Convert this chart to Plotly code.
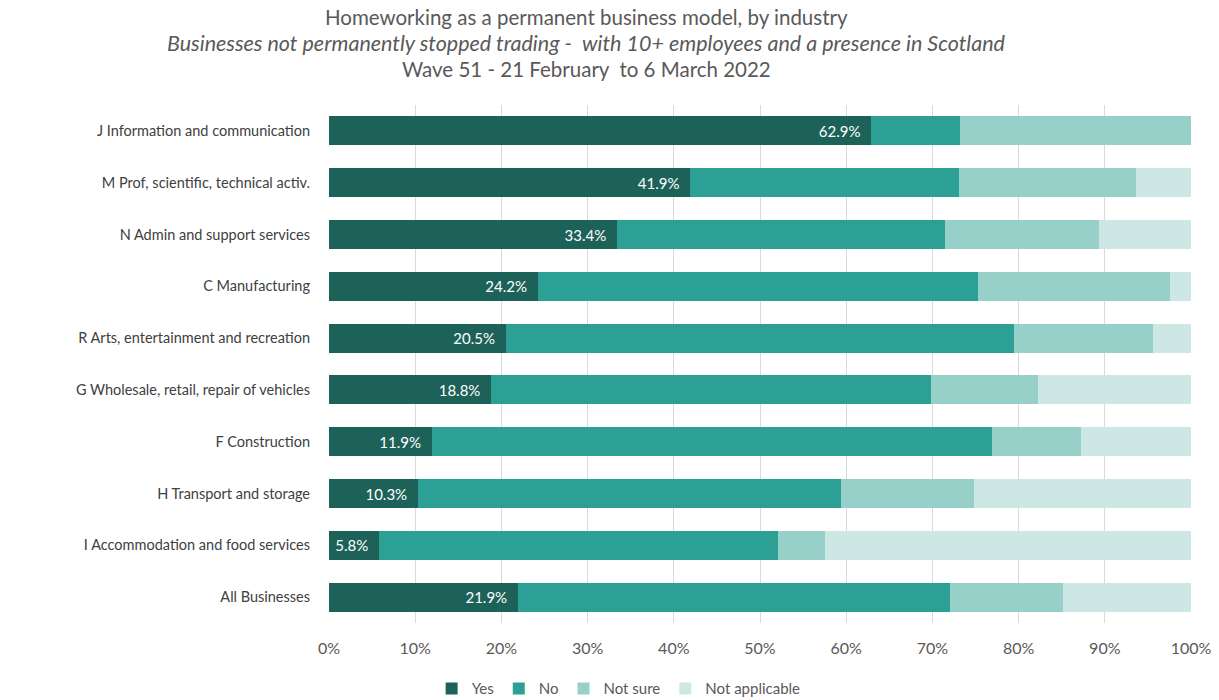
import plotly.graph_objects as go

# Industries, top to bottom as displayed
industries = [
    "J Information and communication",
    "M Prof, scientific, technical activ.",
    "N Admin and support services",
    "C Manufacturing",
    "R Arts, entertainment and recreation",
    "G Wholesale, retail, repair of vehicles",
    "F Construction",
    "H Transport and storage",
    "I Accommodation and food services",
    "All Businesses",
]

# Share of businesses (%) by response
yes_pct = [62.9, 41.9, 33.4, 24.2, 20.5, 18.8, 11.9, 10.3, 5.8, 21.9]
no_pct = [10.3, 31.2, 38.1, 51.1, 59.0, 51.0, 65.0, 49.1, 46.3, 50.1]
not_sure_pct = [26.8, 20.5, 17.8, 22.3, 16.1, 12.4, 10.3, 15.4, 5.4, 13.1]
not_applicable_pct = [0.0, 6.4, 10.7, 2.4, 4.4, 17.8, 12.8, 25.2, 42.5, 14.9]

x_tick_vals = [0, 10, 20, 30, 40, 50, 60, 70, 80, 90, 100]
x_tick_text = ["0%", "10%", "20%", "30%", "40%", "50%", "60%", "70%", "80%", "90%", "100%"]

series = [
    ("Yes", yes_pct, "#1D6259"),
    ("No", no_pct, "#2DA096"),
    ("Not sure", not_sure_pct, "#97D0C9"),
    ("Not applicable", not_applicable_pct, "#CDE8E4"),
]

FONT = "Lato, 'Open Sans', sans-serif"
NBSP = "\u00a0"

fig = go.Figure()
for name, vals, color in series:
    kw = {}
    if name == "Yes":
        kw = dict(
            text=[f"{v:.1f}%{NBSP * 2}" for v in vals],
            textposition="inside",
            insidetextanchor="end",
            textfont=dict(color="white", size=15, family=FONT),
        )
    fig.add_trace(go.Bar(
        name=name,
        y=industries,
        x=vals,
        orientation="h",
        marker=dict(color=color, line=dict(width=0)),
        hoverinfo="skip",
        **kw,
    ))

fig.update_layout(
    barmode="stack",
    bargap=0.44,
    width=1219,
    height=700,
    margin=dict(l=329, r=28, t=105, b=77, autoexpand=False),
    plot_bgcolor="white",
    paper_bgcolor="white",
    font=dict(family=FONT, color="#595959"),
    showlegend=True,
    legend=dict(
        orientation="h",
        x=0.336, xanchor="center",
        y=-0.127, yanchor="middle",
        font=dict(size=15, color="#595959"),
        traceorder="normal",
        itemwidth=30,
    ),
    xaxis=dict(
        range=[0, 100],
        tickvals=x_tick_vals,
        ticktext=x_tick_text,
        showgrid=True,
        gridcolor="#D9D9D9",
        gridwidth=1,
        zeroline=False,
        showline=False,
        tickfont=dict(size=16, color="#595959"),
        ticks="",
        ticklabelstandoff=14,
        fixedrange=True,
    ),
    yaxis=dict(
        categoryorder="array",
        categoryarray=industries,
        autorange="reversed",
        showgrid=False,
        tickfont=dict(size=14.5, color="#404040"),
        ticks="",
        ticklabelstandoff=18,
        fixedrange=True,
    ),
)

title_lines = [
    ("Homeworking as a permanent business model, by industry", 17, False, 20.5),
    ("Businesses not permanently stopped trading -  with 10+ employees and a presence in Scotland", 43, True, 21.5),
    ("Wave 51 - 21 February  to 6 March 2022", 69, False, 20.5),
]
for text, ypix, italic, size in title_lines:
    fig.add_annotation(
        text=f"<i>{text}</i>" if italic else text,
        xref="paper", yref="paper",
        x=(586 - 329) / 862, y=(623 - ypix) / 518,
        xanchor="center", yanchor="middle",
        showarrow=False,
        font=dict(size=size, color="#595959", family=FONT),
    )

fig.write_html("out.html")
